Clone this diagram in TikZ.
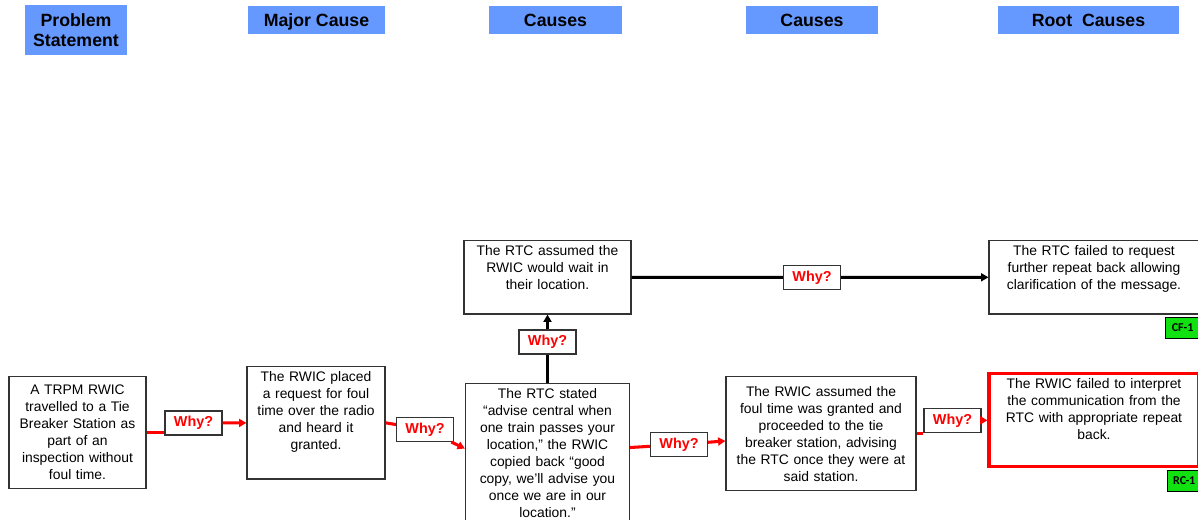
\documentclass[tikz,border=0pt]{standalone}
\usepackage{fontspec}
\setmainfont{Liberation Sans}
\newfontfamily\tagfont{Carlito}
\usepackage{xcolor}
\usetikzlibrary{arrows.meta, positioning}
\definecolor{hdrblue}{HTML}{6699FF}
\definecolor{whyred}{HTML}{FF0000}
\definecolor{taggreen}{HTML}{11E011}

\begin{document}
\begin{tikzpicture}[x=0.75pt, y=-0.75pt,
      hdr/.style={fill=hdrblue, align=center, inner sep=0pt,
                  font=\fontsize{13.3}{14.5}\selectfont\bfseries, minimum height=21pt},
      hdrone/.style={hdr, text height=9.5pt, text depth=0pt},
      box/.style={draw=black!80, line width=0.9pt, align=center, anchor=north,
                  inner xsep=2pt, inner ysep=4pt, font=\fontsize{10.4}{12.75}\selectfont},
      why/.style={draw=black!80, line width=0.8pt, fill=white, text=whyred,
                  font=\fontsize{10.8}{12}\selectfont\bfseries, inner sep=0pt,
                  minimum width=42.75pt, minimum height=18pt},
      tagbox/.style={draw=black, line width=0.5pt, fill=taggreen, inner sep=0pt,
                  font=\tagfont\fontsize{9}{10}\selectfont\bfseries,
                  minimum width=26pt, minimum height=16pt},
      redline/.style={draw=whyred, line width=2.3pt},
      blkline/.style={draw=black, line width=2.2pt},
      arr/.style={-{Triangle[length=5.5pt,width=6pt]}}]
    \useasboundingbox (0,0) rectangle (1198,520);

    % column headers
    \node[hdr, minimum width=76.5pt, minimum height=37.5pt] (hp) at (76,30) {Problem\\Statement};
    \node[hdrone, minimum width=102.75pt] (hm)  at (316.5,20) {Major Cause};
    \node[hdrone, minimum width=100pt]    (hc1) at (555.5,20) {Causes};
    \node[hdrone, minimum width=99pt]     (hc2) at (812,20)   {Causes};
    \node[hdrone, minimum width=135.75pt] (hr)  at (1088.5,20) {Root\ \ Causes};

    % statement boxes
    \node[box, text width=98.75pt, minimum height=84pt] (p) at (77.5,376)
      {A TRPM RWIC\\travelled to a Tie\\Breaker Station as\\part of an\\inspection without\\foul time.};
    \node[box, text width=99.5pt, text depth=68.8pt] (m) at (316,366)
      {The RWIC placed\\a request for foul\\time over the radio\\and heard it\\granted.};
    \node[box, text width=119pt] (c1) at (547.5,383)
      {The RTC stated\\“advise central when\\one train passes your\\location,” the RWIC\\copied back “good\\copy, we’ll advise you\\once we are in our\\location.”};
    \node[box, text width=121.25pt, text depth=39.5pt] (t) at (547.5,240)
      {The RTC assumed the\\RWIC would wait in\\their location.};
    \node[box, text width=138.5pt, minimum height=85.5pt] (c2) at (821,376)
      {The RWIC assumed the\\foul time was granted and\\proceeded to the tie\\breaker station, advising\\the RTC once they were at\\said station.};
    \node[box, text width=153.5pt, text depth=39.5pt] (r) at (1094,240)
      {The RTC failed to request\\further repeat back allowing\\clarification of the message.};
    \node[box, draw=whyred, line width=2.3pt, text width=153.5pt, text depth=54pt] (rc) at (1094,372)
      {The RWIC failed to interpret\\the communication from the\\RTC with appropriate repeat\\back.};

    % tags
    \node[tagbox, below left=1.5pt and -0.5pt of r.south east] (cf) {CF-1};
    \node[tagbox, below left=1.5pt and -1pt of rc.south east] (rc1) {RC-1};

    % why boxes
    \node[why] (w1) at (193.5,423)   {Why?};
    \node[why] (w2) at (425,429.5)   {Why?};
    \node[why] (w3) at (547.5,342)   {Why?};
    \node[why] (w4) at (812,277.5)   {Why?};
    \node[why] (w5) at (679,444.5)   {Why?};
    \node[why] (w6) at (952.5,420.5) {Why?};

    % connectors
    \draw[redline] (p.east) -- (p.east -| w1.west);
    \draw[redline, arr] (w1) -- (m);
    \draw[redline] (m.east) -- (w2);
    \draw[redline, arr] (w2) -- ([yshift=3.75pt]c1.west);
    \draw[redline] ([yshift=4.5pt]c1.east) -- (w5);
    \draw[redline, arr] (w5) -- (c2);
    \draw[redline] (c2.east) -- (c2.east -| w6.west);
    \draw[redline, arr] (w6) -- (rc);
    \draw[blkline] (c1.north) -- (w3);
    \draw[blkline, arr] (w3) -- (t.south);
    \draw[blkline] (t.east) -- (w4);
    \draw[blkline, arr] (w4) -- (r.west);
  \end{tikzpicture}
\end{document}
